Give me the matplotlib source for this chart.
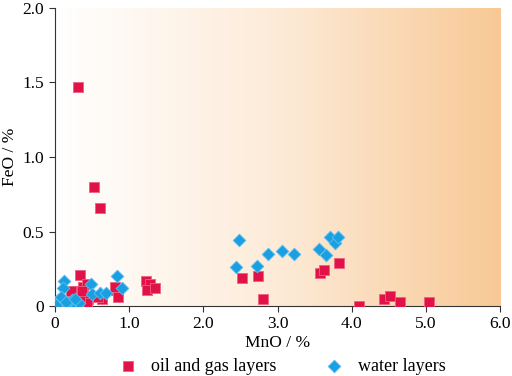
import numpy as np
import matplotlib
matplotlib.use("Agg")
import matplotlib.pyplot as plt
from matplotlib.colors import LinearSegmentedColormap

# oil and gas layers (MnO %, FeO %)
oil_mno = [0.31, 0.53, 0.61, 0.34, 1.23, 1.28, 1.24, 1.35, 0.82, 0.85, 0.81,
           0.63, 0.58, 0.25, 0.31, 0.38, 0.43, 0.38, 0.45, 0.43, 0.16, 0.27,
           0.34, 0.36, 0.22, 0.12, 0.20,
           2.52, 2.74, 2.80, 3.57, 3.63, 3.83, 4.10, 4.43, 4.52, 4.65, 5.04]
oil_feo = [1.47, 0.80, 0.66, 0.21, 0.17, 0.15, 0.11, 0.12, 0.11, 0.06, 0.13,
           0.05, 0.06, 0.08, 0.10, 0.13, 0.15, 0.07, 0.05, 0.02, 0.03, 0.04,
           0.06, 0.10, 0.10, 0.02, 0.01,
           0.19, 0.20, 0.05, 0.22, 0.24, 0.29, 0.00, 0.05, 0.07, 0.03, 0.03]

# water layers
wat_mno = [0.12, 0.11, 0.49, 0.50, 0.61, 0.69, 0.84, 0.90, 0.00, 0.04, 0.11,
           0.18, 0.23, 0.30, 0.33, 0.08, 0.02, 0.15, 0.27,
           2.48, 2.44, 2.72, 2.87, 3.06, 3.22, 3.56, 3.65, 3.71, 3.78, 3.82]
wat_feo = [0.17, 0.12, 0.15, 0.08, 0.09, 0.09, 0.20, 0.12, 0.02, 0.04, 0.05,
           0.01, 0.04, 0.00, 0.02, 0.06, 0.01, 0.03, 0.05,
           0.44, 0.26, 0.27, 0.35, 0.37, 0.35, 0.38, 0.34, 0.46, 0.42, 0.46]

xticks = [0, 1, 2, 3, 4, 5, 6]
xticklabels = ["0", "1.0", "2.0", "3.0", "4.0", "5.0", "6.0"]
yticks = [0, 0.5, 1.0, 1.5, 2.0]
yticklabels = ["0", "0.5", "1.0", "1.5", "2.0"]

plt.rcParams['font.family'] = ['Liberation Serif', 'DejaVu Serif']

fig = plt.figure(figsize=(5.12, 3.76), dpi=100)
ax = fig.add_axes([0.107, 0.186, 0.870, 0.793])

cmap = LinearSegmentedColormap.from_list("bg", ["#FFFFFF", "#FDEBD8", "#F8C996"])
grad = np.linspace(0, 1, 256).reshape(1, -1)
ax.imshow(grad, extent=[0, 6, 0, 2], aspect='auto', cmap=cmap, zorder=0)

ax.scatter(oil_mno, oil_feo, marker='s', s=55, c='#E01248', edgecolors='#F0607F',
           linewidths=0.6, zorder=3, label='oil and gas layers')
ax.scatter(wat_mno, wat_feo, marker='D', s=42, c='#1A9FE0', edgecolors='#5EC0F0',
           linewidths=0.6, zorder=4, label='water layers')

ax.set_xlim(0, 6)
ax.set_ylim(0, 2)
ax.set_xticks(xticks)
ax.set_xticklabels(xticklabels)
ax.set_yticks(yticks)
ax.set_yticklabels(yticklabels)
ax.tick_params(labelsize=12.5, direction='out', length=4, color='#333333')
for s in ['top', 'right']:
    ax.spines[s].set_visible(False)
for s in ['left', 'bottom']:
    ax.spines[s].set_color('#333333')

ax.set_xlabel("MnO / %", fontsize=12.5, labelpad=2)
ax.set_ylabel("FeO / %", fontsize=12.5)
ax.yaxis.set_label_coords(-0.083, 0.5)

ax.legend(loc='center', bbox_to_anchor=(0.5, -0.203), ncol=2, frameon=False,
          fontsize=13, handletextpad=0.3, columnspacing=2.2, markerscale=1.0,
          borderpad=0.1)

fig.savefig("out.png", dpi=100)
